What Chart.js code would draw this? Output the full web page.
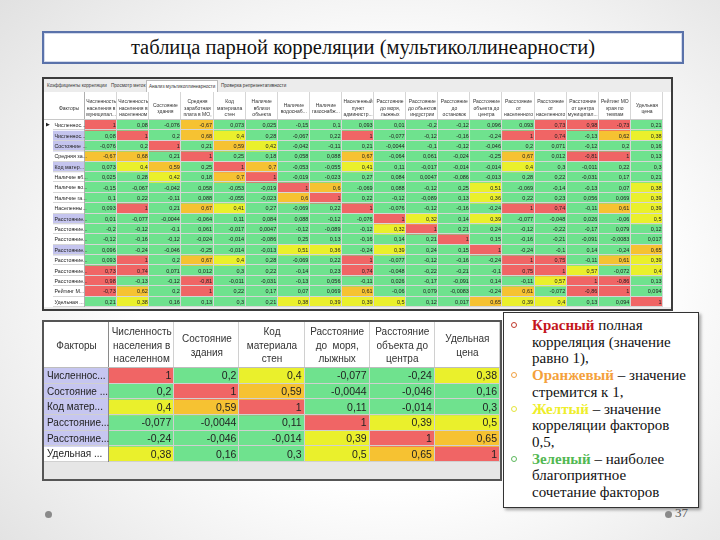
<!DOCTYPE html>
<html>
<head>
<meta charset="utf-8">
<script src="https://cdn.jsdelivr.net/npm/chart.js@4.4.1/dist/chart.umd.min.js"></script>
<style>
html, body { margin: 0; padding: 0; }
body {
  width: 720px; height: 540px; position: relative; overflow: hidden;
  background: radial-gradient(ellipse 80% 85% at 55% 52%, #ffffff 45%, #dcdcdc 100%);
  font-family: "Liberation Serif", serif;
}
.abs { position: absolute; }
#title {
  left: 42px; top: 31px; width: 642px; height: 33px; box-sizing: border-box;
  border: 2px solid #5a72aa; box-shadow: inset 0 0 0 1px #d3daec; background: #fff;
  text-align: center; line-height: 29px; font-size: 20.5px; color: #111;
}
#frameTop {
  left: 42px; top: 77px; width: 631px; height: 234px; box-sizing: border-box;
  border: 2px solid #3c3c3c; background: #ececec;
}
#tabs span {
  position: absolute; top: 83px; font: 4.6px "Liberation Sans", sans-serif; color: #333; white-space: nowrap;
}
#tabs span.on { top: 80px; padding: 3px 2px 4px; background: #fff; border: 1px solid #bbb; border-bottom: none; }
#topChart { left: 44px; top: 92px; background: #fff; }
#frameBot {
  left: 42px; top: 320px; width: 460px; height: 161px; box-sizing: border-box;
  border: 2px solid #555; background: #e6e6e6;
}
#botChart { left: 44px; top: 322px; background: #fff; }
#legend {
  left: 503px; top: 312px; width: 196px; height: 196px; box-sizing: border-box;
  border: 1px solid #333; background: #fff; box-shadow: 2px 2px 3px rgba(0,0,0,0.35);
  padding: 4px 0 0 28px; font-size: 15px; line-height: 16.7px; color: #111; white-space: nowrap;
}
#legend .it { position: relative; }
#legend .dot {
  position: absolute; left: -21px; top: 5px; width: 4px; height: 4px;
  border: 1.6px solid; border-radius: 50%;
}
#legend b { font-weight: bold; }
.fdot { width: 7px; height: 7px; border-radius: 50%; background: #8a8a8a; top: 511px; }
#page { left: 675px; top: 505px; font-size: 13px; color: #555; }
</style>
</head>
<body>
<div id="title" class="abs">таблица парной корреляции (мультиколлинеарности)</div>

<div id="frameTop" class="abs"></div>
<div id="tabs"></div>
<canvas id="topChart" class="abs" width="627" height="215"></canvas>

<div id="frameBot" class="abs"></div>
<canvas id="botChart" class="abs" width="456" height="140"></canvas>

<div id="legend" class="abs">
  <div class="it"><span class="dot" style="border-color:#c0392b"></span><b style="color:#c4161c">Красный</b> полная<br>корреляция (значение<br>равно 1),</div>
  <div class="it"><span class="dot" style="border-color:#f0a040"></span><b style="color:#f4a13c">Оранжевый</b> – значение<br>стремится к 1,</div>
  <div class="it"><span class="dot" style="border-color:#e4e43a"></span><b style="color:#eeee2a">Желтый</b> – значение<br>корреляции факторов<br>0,5,</div>
  <div class="it"><span class="dot" style="border-color:#5cb85c"></span><b style="color:#52b852">Зеленый</b> – наиболее<br>благоприятное<br>сочетание факторов</div>
</div>

<div class="abs fdot" style="left:45px"></div>
<div class="abs fdot" style="left:665px"></div>
<div id="page" class="abs">37</div>

<script>
// tabs of the program window
const tabNames = ['Коэффициенты корреляции', 'Просмотр меток', 'Анализ мультиколлинеарности', 'Проверка репрезентативности'];
const tabLeft = [47, 111, 146, 221];

// full correlation matrix (top screenshot)
const topCols = [
  ['Численность', 'населения в', 'муниципал...'],
  ['Численность', 'населения в', 'населенном'],
  ['Состояние', 'здания'],
  ['Средняя', 'заработная', 'плата в МО,'],
  ['Код', 'материала', 'стен'],
  ['Наличие', 'вблизи', 'объекта'],
  ['Наличие', 'водоснаб...'],
  ['Наличие', 'газоснабж...'],
  ['Населенный', 'пункт', 'администр...'],
  ['Расстояние', 'до моря,', 'лыжных'],
  ['Расстояние', 'до объектов', 'индустрии'],
  ['Расстояние', 'до', 'остановок'],
  ['Расстояние', 'объекта до', 'центра'],
  ['Расстояние', 'от', 'населенного'],
  ['Расстояние', 'от', 'населенного'],
  ['Расстояние', 'от центра', 'муниципал...'],
  ['Рейтинг МО', 'края по', 'темпам'],
  ['Удельная', 'цена']
];
const topRows = [
  'Численнос...', 'Численнос...', 'Состояние ...', 'Средняя за...', 'Код матер...',
  'Наличие вб...', 'Наличие во...', 'Наличие га...', 'Населенны...', 'Расстояние...',
  'Расстояние...', 'Расстояние...', 'Расстояние...', 'Расстояние...', 'Расстояние...',
  'Расстояние...', 'Рейтинг М...', 'Удельная ...'
];
const topValues = [
  [1, 0.08, -0.076, -0.67, 0.073, 0.025, -0.15, 0.1, 0.093, 0.01, -0.2, -0.12, 0.096, 0.093, 0.73, 0.98, -0.73, 0.21],
  [0.08, 1, 0.2, 0.68, 0.4, 0.28, -0.067, 0.22, 1, -0.077, -0.12, -0.16, -0.24, 1, 0.74, -0.13, 0.62, 0.38],
  [-0.076, 0.2, 1, 0.21, 0.59, 0.42, -0.042, -0.11, 0.21, -0.0044, -0.1, -0.12, -0.046, 0.2, 0.071, -0.12, 0.2, 0.16],
  [-0.67, 0.68, 0.21, 1, 0.25, 0.18, 0.058, 0.088, 0.67, -0.064, 0.061, -0.024, -0.25, 0.67, 0.012, -0.81, 1, 0.13],
  [0.073, 0.4, 0.59, 0.25, 1, 0.7, -0.053, -0.055, 0.41, 0.11, -0.017, -0.014, -0.014, 0.4, 0.3, -0.011, 0.22, 0.3],
  [0.025, 0.28, 0.42, 0.18, 0.7, 1, -0.019, -0.023, 0.27, 0.084, 0.0047, -0.086, -0.013, 0.28, 0.22, -0.031, 0.17, 0.21],
  [-0.15, -0.067, -0.042, 0.058, -0.053, -0.019, 1, 0.6, -0.069, 0.088, -0.12, 0.25, 0.51, -0.069, -0.14, -0.13, 0.07, 0.38],
  [0.1, 0.22, -0.11, 0.088, -0.055, -0.023, 0.6, 1, 0.22, -0.12, -0.089, 0.13, 0.36, 0.22, 0.23, 0.056, 0.069, 0.39],
  [0.093, 1, 0.21, 0.67, 0.41, 0.27, -0.069, 0.22, 1, -0.076, -0.12, -0.16, -0.24, 1, 0.74, -0.11, 0.61, 0.39],
  [0.01, -0.077, -0.0044, -0.064, 0.11, 0.084, 0.088, -0.12, -0.076, 1, 0.32, 0.14, 0.39, -0.077, -0.048, 0.026, -0.06, 0.5],
  [-0.2, -0.12, -0.1, 0.061, -0.017, 0.0047, -0.12, -0.089, -0.12, 0.32, 1, 0.21, 0.24, -0.12, -0.22, -0.17, 0.079, 0.12],
  [-0.12, -0.16, -0.12, -0.024, -0.014, -0.086, 0.25, 0.13, -0.16, 0.14, 0.21, 1, 0.15, -0.16, -0.21, -0.091, -0.0083, 0.017],
  [0.096, -0.24, -0.046, -0.25, -0.014, -0.013, 0.51, 0.36, -0.24, 0.39, 0.24, 0.15, 1, -0.24, -0.1, 0.14, -0.24, 0.65],
  [0.093, 1, 0.2, 0.67, 0.4, 0.28, -0.069, 0.22, 1, -0.077, -0.12, -0.16, -0.24, 1, 0.75, -0.11, 0.61, 0.39],
  [0.73, 0.74, 0.071, 0.012, 0.3, 0.22, -0.14, 0.23, 0.74, -0.048, -0.22, -0.21, -0.1, 0.75, 1, 0.57, -0.072, 0.4],
  [0.98, -0.13, -0.12, -0.81, -0.011, -0.031, -0.13, 0.056, -0.11, 0.026, -0.17, -0.091, 0.14, -0.11, 0.57, 1, -0.86, 0.13],
  [-0.73, 0.62, 0.2, 1, 0.22, 0.17, 0.07, 0.069, 0.61, -0.06, 0.079, -0.0083, -0.24, 0.61, -0.072, -0.86, 1, 0.094],
  [0.21, 0.38, 0.16, 0.13, 0.3, 0.21, 0.38, 0.39, 0.39, 0.5, 0.12, 0.017, 0.65, 0.39, 0.4, 0.13, 0.094, 1]
];
const topMarked = [1, 2, 4, 9, 12];

// selected factors (bottom screenshot)
const botCols = [
  ['Численность', 'населения в', 'населенном'],
  ['Состояние', 'здания'],
  ['Код', 'материала', 'стен'],
  ['Расстояние', 'до  моря,', 'лыжных'],
  ['Расстояние', 'объекта до', 'центра'],
  ['Удельная', 'цена']
];
const botRows = ['Численнос...', 'Состояние ...', 'Код матер...', 'Расстояние...', 'Расстояние...', 'Удельная ...'];
const botValues = [
  [1, 0.2, 0.4, -0.077, -0.24, 0.38],
  [0.2, 1, 0.59, -0.0044, -0.046, 0.16],
  [0.4, 0.59, 1, 0.11, -0.014, 0.3],
  [-0.077, -0.0044, 0.11, 1, 0.39, 0.5],
  [-0.24, -0.046, -0.014, 0.39, 1, 0.65],
  [0.38, 0.16, 0.3, 0.5, 0.65, 1]
];
const botMarked = [0, 1, 2, 3, 4];

const tabsBox = document.getElementById('tabs');
tabNames.forEach((t, i) => {
  const s = document.createElement('span');
  s.textContent = t;
  s.style.left = tabLeft[i] + 'px';
  if (i === 2) s.className = 'on';
  tabsBox.appendChild(s);
});

function cellColor(v) {
  const a = Math.abs(v);
  if (a >= 0.72) return '#f06565';
  if (a >= 0.58) return '#f6c232';
  if (a >= 0.31) return '#eaf02c';
  return '#6fe28e';
}
const fmt = v => String(v).replace('.', ',');

function makeTable(id, cols, rows, values, marked, cfg) {
  const labels = ['Факторы'].concat(cols);
  const datasets = rows.map((name, r) => ({
    label: name,
    data: labels.map(() => [r, r + 1]),
    backgroundColor: labels.map((c, j) => j === 0
      ? (marked.includes(r) ? cfg.markBg : '#ffffff')
      : cellColor(values[r][j - 1])),
    grouped: false,
    barPercentage: 1,
    categoryPercentage: 1,
    borderWidth: 0
  }));

  const cellPlugin = {
    id: 'cells',
    afterDatasetsDraw(chart) {
      const ctx = chart.ctx;
      const xs = chart.scales.x, ys = chart.scales.y, area = chart.chartArea;
      const half = (xs.getPixelForValue(1) - xs.getPixelForValue(0)) / 2;
      const line = (x1, y1, x2, y2, c) => {
        ctx.strokeStyle = c;
        ctx.beginPath(); ctx.moveTo(x1, y1); ctx.lineTo(x2, y2); ctx.stroke();
      };
      ctx.save();
      ctx.lineWidth = 1;
      for (let r = 1; r <= rows.length; r++) {
        const py = Math.round(ys.getPixelForValue(r)) - 0.5;
        line(area.left, py, area.right, py, cfg.lineColor);
      }
      for (let j = 1; j <= labels.length; j++) {
        const px = Math.round(xs.getPixelForValue(j) - half) - 0.5;
        line(px, 0, px, area.bottom, j === 1 ? cfg.sepColor : cfg.lineColor);
      }
      line(0, Math.round(area.top) - 0.5, area.right, Math.round(area.top) - 0.5, cfg.headLine);

      ctx.fillStyle = '#222';
      ctx.textBaseline = 'middle';
      rows.forEach((name, r) => {
        chart.getDatasetMeta(r).data.forEach((el, j) => {
          const cy = (el.y + el.base) / 2 + 0.5;
          if (j === 0) {
            ctx.font = cfg.labelSize + 'px "Liberation Sans"';
            ctx.textAlign = 'left';
            ctx.fillText(name, el.x - el.width / 2 + cfg.pad, cy);
          } else {
            ctx.font = cfg.cellSize + 'px "Liberation Sans"';
            ctx.textAlign = 'right';
            ctx.fillText(fmt(values[r][j - 1]), el.x + el.width / 2 - cfg.pad, cy);
          }
        });
      });
      if (cfg.pointer) {
        const cy = (ys.getPixelForValue(0) + ys.getPixelForValue(1)) / 2;
        ctx.font = '5px "DejaVu Sans"';
        ctx.textAlign = 'center';
        ctx.fillText('▶', area.left - 5, cy);
      }
      ctx.restore();
    }
  };

  return new Chart(document.getElementById(id), {
    type: 'bar',
    data: { labels, datasets },
    options: {
      responsive: false,
      animation: false,
      devicePixelRatio: 1,
      layout: { padding: cfg.padding },
      plugins: { legend: { display: false }, tooltip: { enabled: false } },
      scales: {
        x: {
          position: 'top',
          offset: true,
          grid: { display: false },
          border: { display: false },
          ticks: {
            autoSkip: false, maxRotation: 0, minRotation: 0,
            crossAlign: 'center', padding: cfg.tickPad, color: '#333',
            font: { family: 'Liberation Sans', size: cfg.headSize, lineHeight: cfg.headLH }
          },
          afterFit(s) { s.height = cfg.headerH; }
        },
        y: { type: 'linear', display: false, reverse: true, min: 0, max: rows.length }
      }
    },
    plugins: [cellPlugin]
  });
}

makeTable('topChart', topCols, topRows, topValues, topMarked, {
  padding: { left: 9, right: 8, top: 0, bottom: 0 },
  headerH: 28, headSize: 5, headLH: 1.3, tickPad: -3,
  cellSize: 5.5, labelSize: 5.3, pad: 1.5, markBg: '#c4c4ee',
  lineColor: '#d6d6d6', sepColor: '#b0b0b0', headLine: '#c8c8c8', pointer: true
});

makeTable('botChart', botCols, botRows, botValues, botMarked, {
  padding: 0,
  headerH: 46, headSize: 10, headLH: 1.35, tickPad: 0.5,
  cellSize: 10.5, labelSize: 10, pad: 3, markBg: '#c6c6f0',
  lineColor: '#d0d0d0', sepColor: '#8a8a8a', headLine: '#bdbdbd', pointer: false
});
</script>
</body>
</html>
